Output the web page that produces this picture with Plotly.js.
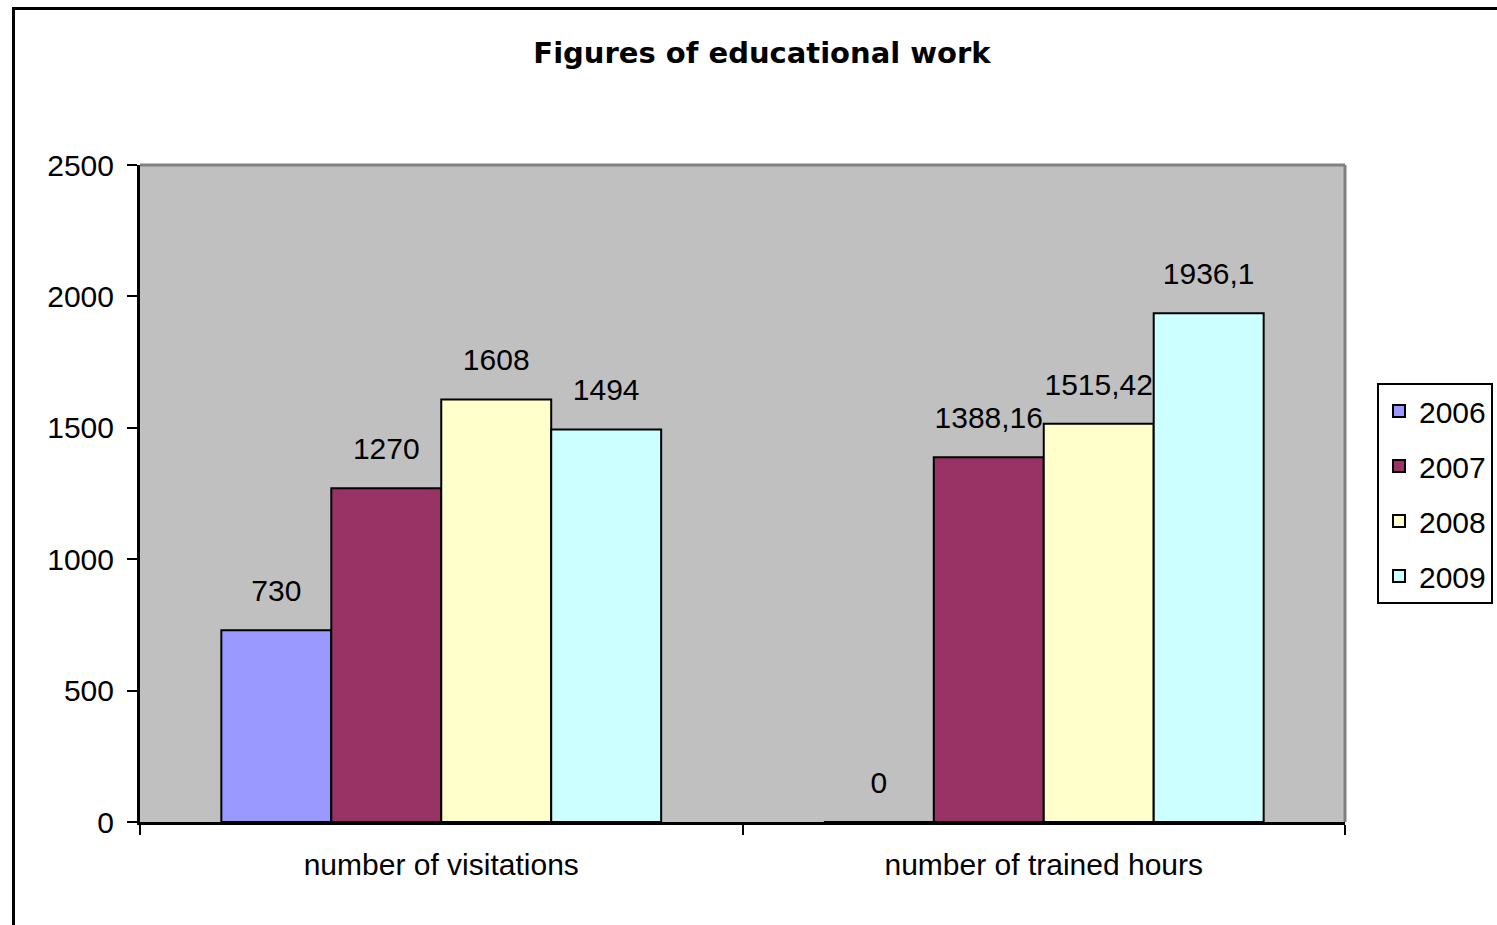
<!DOCTYPE html>
<html>
<head>
<meta charset="utf-8">
<script src="https://cdn.plot.ly/plotly-3.0.1.min.js"></script>
<style>
html, body { margin: 0; padding: 0; overflow: hidden; background: #fff; }
#wrap { position: relative; width: 1497px; height: 925px; overflow: hidden; }
#chart { width: 1497px; height: 925px; }
#frame { position: absolute; left: 12px; top: 7px; width: 2000px; height: 2000px;
         border: 3px solid #000; pointer-events: none; box-sizing: border-box; }
</style>
</head>
<body>
<div id="wrap">
  <div id="chart"></div>
  <div id="frame"></div>
</div>
<script>
const categories = ["number of visitations", "number of trained hours"];
const years = ["2006", "2007", "2008", "2009"];
const values2006 = [730, 0];
const values2007 = [1270, 1388.16];
const values2008 = [1608, 1515.42];
const values2009 = [1494, 1936.1];
const yTicks = [0, 500, 1000, 1500, 2000, 2500];
const colors = ["#9999FF", "#993366", "#FFFFCC", "#CCFFFF"];

const series = [values2006, values2007, values2008, values2009];
const fmt = v => String(v).replace('.', ',');
const FONT = "Liberation Sans, Arial, sans-serif";

const traces = [];
series.forEach((vals, i) => {
  traces.push({
    type: 'bar', name: years[i], x: categories, y: vals,
    marker: { color: colors[i], line: { color: '#000', width: 2 } },
    offsetgroup: 'g' + i, legendgroup: 'g' + i,
    hoverinfo: 'skip'
  });
});
series.forEach((vals, i) => {
  traces.push({
    type: 'scatter', mode: 'markers+text', x: categories, y: vals,
    text: vals.map(fmt), textposition: 'top center',
    textfont: { family: FONT, size: 30, color: '#000' },
    marker: { size: 33, opacity: 0 },
    offsetgroup: 'g' + i, showlegend: false, hoverinfo: 'skip', cliponaxis: false
  });
});

const layout = {
  width: 1497, height: 925,
  margin: { l: 140, r: 152, t: 165, b: 103, autoexpand: false },
  paper_bgcolor: '#FFFFFF', plot_bgcolor: '#C0C0C0',
  barmode: 'group', bargap: 0.27, bargroupgap: 0,
  scattermode: 'group', scattergap: 0.27,
  font: { family: FONT, size: 30, color: '#000' },
  title: {
    text: 'Figures of educational work',
    font: { family: 'DejaVu Sans, sans-serif', size: 29, weight: 'bold', color: '#000' },
    xref: 'container', x: 0.509, xanchor: 'center',
    yref: 'container', y: 1 - 53 / 925, yanchor: 'middle'
  },
  xaxis: {
    type: 'category', tickson: 'boundaries', ticks: 'outside', ticklen: 10, tickwidth: 2,
    tickcolor: '#000', showline: true, linecolor: '#000', linewidth: 3,
    showgrid: false, zeroline: false, tickfont: { size: 30 }, fixedrange: true,
    ticklabelstandoff: 14
  },
  yaxis: {
    range: [0, 2500], tickmode: 'array', tickvals: yTicks, ticktext: yTicks.map(String),
    ticks: 'outside', ticklen: 10, tickwidth: 2, tickcolor: '#000',
    showline: true, linecolor: '#000', linewidth: 3, showgrid: false, zeroline: false,
    tickfont: { size: 30 }, fixedrange: true, ticklabelstandoff: 7
  },
  legend: {
    x: (1377 - 140) / 1205, xanchor: 'left', y: (822 - 383) / 657, yanchor: 'top',
    bgcolor: '#FFFFFF', bordercolor: '#000', borderwidth: 2,
    font: { family: FONT, size: 30, color: '#000' },
    traceorder: 'grouped', tracegroupgap: 13
  },
  shapes: [
    { type: 'line', xref: 'paper', yref: 'paper', x0: 0, x1: 1, y0: 1, y1: 1, line: { color: '#808080', width: 3 } },
    { type: 'line', xref: 'paper', yref: 'paper', x0: 1, x1: 1, y0: 0, y1: 1, line: { color: '#808080', width: 3 } }
  ],
  showlegend: true
};

Plotly.newPlot('chart', traces, layout, { displayModeBar: false, staticPlot: true });
</script>
</body>
</html>
